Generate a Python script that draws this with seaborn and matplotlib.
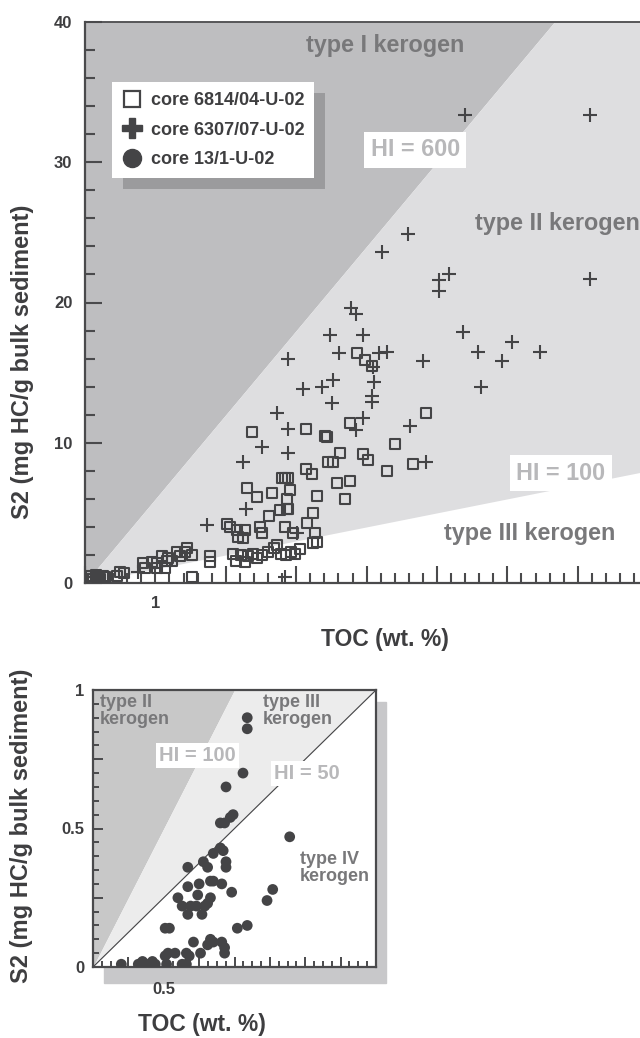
import numpy as np
import matplotlib
matplotlib.use("Agg")
import matplotlib.pyplot as plt
from matplotlib.lines import Line2D
from matplotlib.patches import Rectangle
from matplotlib.ticker import MultipleLocator
import seaborn as sns

# ---------------- data ----------------
# core 6814/04-U-02 (open squares): TOC wt.% and S2 mg HC/g
toc_6814 = [0.05, 0.08, 0.12, 0.15, 0.18, 0.22, 0.25, 0.10, 0.20, 0.28,
            0.45, 0.50, 0.55,
            0.82, 0.85, 0.95, 1.02, 1.02, 1.14, 1.16, 1.09, 1.18, 1.24,
            1.31, 1.35, 1.42, 1.45, 1.52, 1.52, 1.78, 1.78,
            2.10, 2.15, 2.22, 2.27, 2.32, 2.38, 2.45, 2.52, 2.60, 2.68,
            2.78, 2.86, 2.92, 2.98, 3.05, 3.24,
            2.02, 2.06, 2.16, 2.27, 2.24, 2.17, 2.49, 2.51, 2.73, 2.84,
            2.96, 2.61, 2.77, 2.88, 3.24, 3.15, 3.27, 3.29,
            2.30, 2.44, 2.66, 2.91, 2.87, 2.87, 3.29, 2.80, 2.84, 2.88,
            3.14, 3.22, 2.37, 3.14,
            3.76, 3.41, 3.44, 3.62, 3.45, 3.52, 3.76, 3.58, 3.69,
            3.95, 4.02, 4.40, 4.29, 4.66, 4.85,
            3.86, 3.98, 4.08]
s2_6814 = [0.3, 0.5, 0.3, 0.6, 0.4, 0.3, 0.5, 0.1, 0.15, 0.4,
           0.5, 0.8, 0.7,
           1.4, 1.1, 1.5, 1.4, 1.1, 1.1, 1.6, 1.9, 1.8, 1.6,
           2.2, 1.9, 2.2, 2.5, 2.0, 0.4, 1.9, 1.5,
           2.1, 1.6, 2.0, 1.5, 1.9, 2.1, 1.8, 2.0, 2.2, 2.5,
           2.1, 2.0, 2.2, 2.1, 2.4, 2.85,
           4.2, 4.0, 3.8, 3.8, 3.2, 3.3, 4.0, 3.6, 2.7, 4.0,
           3.6, 4.8, 5.2, 5.3, 5.0, 4.3, 3.6, 2.9,
           6.8, 6.1, 6.4, 6.6, 6.0, 5.3, 6.2, 7.5, 7.5, 7.5,
           8.1, 7.8, 10.8, 11.0,
           11.4, 10.5, 10.4, 9.3, 8.6, 8.6, 7.3, 7.1, 6.0,
           9.2, 8.8, 9.9, 8.0, 8.5, 12.1,
           16.4, 15.9, 15.5]

# core 6307/07-U-02 (crosses)
toc_6307 = [0.75, 1.73, 2.24, 2.29, 2.51, 2.73, 2.84, 2.88, 2.88, 2.88,
            3.01, 3.10, 3.37, 3.48, 3.51, 3.52, 3.61, 3.78, 3.85, 3.85,
            3.95, 3.95, 4.08, 4.08, 4.09, 4.10, 4.18, 4.29, 4.22, 4.59,
            4.62, 4.80, 4.84, 5.03, 5.03, 5.17, 5.37, 5.40, 5.58, 5.63,
            5.92, 6.07, 6.46, 7.17, 7.17]
s2_6307 = [0.8, 4.1, 8.6, 5.3, 9.7, 12.1, 0.4, 11.0, 9.3, 16.0,
           3.6, 13.8, 14.0, 17.7, 12.8, 14.5, 16.4, 19.6, 19.2, 10.9,
           17.7, 11.8, 13.3, 12.9, 15.4, 14.3, 16.4, 16.5, 23.6, 24.9,
           11.2, 15.8, 8.6, 21.6, 20.8, 22.0, 17.9, 33.4, 16.5, 14.0,
           15.8, 17.2, 16.5, 33.4, 21.7]

# core 13/1-U-02 (filled circles)
toc_131 = [1.09, 1.09, 1.06, 0.94, 0.90, 0.93, 0.97, 0.99, 1.39, 0.90,
           0.85, 0.92, 0.67, 0.78, 0.81, 0.94, 0.94, 0.67, 0.75, 0.83,
           0.85, 0.91, 0.60, 0.98, 0.74, 0.83, 0.63, 0.69, 0.73, 0.79,
           0.81, 0.67, 0.77, 1.27, 1.23, 0.51, 0.54, 1.02, 1.09, 0.71,
           0.83, 0.81, 0.85, 0.91, 0.93, 0.93, 0.51, 0.53, 0.58, 0.66,
           0.68, 0.76, 0.20, 0.32, 0.35, 0.42, 0.44, 0.52, 0.63, 0.66,
           0.38, 0.34]
s2_131 = [0.90, 0.86, 0.70, 0.65, 0.52, 0.52, 0.54, 0.55, 0.47, 0.43,
          0.41, 0.42, 0.36, 0.38, 0.36, 0.38, 0.36, 0.29, 0.30, 0.31,
          0.31, 0.30, 0.25, 0.27, 0.26, 0.25, 0.22, 0.22, 0.22, 0.22,
          0.23, 0.19, 0.19, 0.28, 0.24, 0.14, 0.14, 0.14, 0.15, 0.09,
          0.10, 0.08, 0.09, 0.09, 0.07, 0.05, 0.04, 0.05, 0.05, 0.05,
          0.04, 0.05, 0.01, 0.01, 0.02, 0.02, 0.01, 0.01, 0.01, 0.01,
          0.01, 0.00]

legend_labels = ["core 6814/04-U-02", "core 6307/07-U-02", "core 13/1-U-02"]

# hydrogen-index boundaries (mg HC/g TOC)
hi_top = [600, 100]
hi_bottom = [100, 50]

top_yticks = [0, 10, 20, 30, 40]
top_xticks = [0, 1, 2, 3, 4, 5, 6, 7]
top_xticklabels = ["", "1", "", "", "", "", "", ""]
bot_yticks = [0, 0.25, 0.5, 0.75, 1.0]
bot_yticklabels = ["0", "", "0.5", "", "1"]
bot_xticks = [0, 0.25, 0.5, 0.75, 1.0, 1.25, 1.5, 1.75, 2.0]
bot_xticklabels = ["", "", "0.5", "", "", "", "", "", ""]

# ---------------- style ----------------
sns.set_style("ticks")
plt.rcParams["font.family"] = ["Liberation Sans", "DejaVu Sans"]
plt.rcParams["font.weight"] = "bold"
plt.rcParams["axes.labelweight"] = "bold"

ink = "#3e3e40"
mark = "#444446"
spine_c = "#4a4a4c"
dark_zone = "#bebec0"
light_zone = "#dedee0"
dark_zone2 = "#c8c8c8"
light_zone2 = "#ececec"
type_c = "#78787a"
hi_c = "#b8b8ba"

W, H = 640, 1038
fig = plt.figure(figsize=(W / 100, H / 100), dpi=100)

px_per_toc = 70.4
ax1 = fig.add_axes([85 / W, 455 / H, 555 / W, 561 / H])
ax2 = fig.add_axes([93 / W, 71 / H, 283 / W, 277 / H])

# ---------------- upper panel ----------------
xmax1 = 555 / px_per_toc
ax1.set_xlim(0, xmax1)
ax1.set_ylim(0, 40)
xs = np.linspace(0, xmax1, 800)
upper = np.clip(hi_top[0] / 100 * xs, 0, 40)
lower = np.clip(hi_top[1] / 100 * xs, 0, 40)
ax1.fill_between(xs, upper, 40, color=dark_zone, lw=0, zorder=0)
ax1.fill_between(xs, lower, upper, color=light_zone, lw=0, zorder=0)

sns.scatterplot(x=toc_6814, y=s2_6814, ax=ax1, marker="s", s=52,
                facecolor="none", edgecolor=mark, linewidth=1.5, zorder=3)
sns.scatterplot(x=toc_6307, y=s2_6307, ax=ax1, marker="+", s=95,
                color=mark, linewidth=1.5, zorder=3)

ax1.set_yticks(top_yticks)
ax1.yaxis.set_minor_locator(MultipleLocator(2))
ax1.set_xticks(top_xticks)
ax1.set_xticklabels(top_xticklabels)
ax1.xaxis.set_minor_locator(MultipleLocator(0.2))
ax1.tick_params(which="major", direction="in", length=12, width=1.5,
                color=spine_c, labelsize=12, labelcolor=ink, pad=9)
ax1.tick_params(which="minor", direction="in", length=7, width=1.5,
                color=spine_c)
ax1.tick_params(top=False, right=False, which="both")
for side in ["left", "bottom", "top"]:
    ax1.spines[side].set_color(spine_c)
    ax1.spines[side].set_linewidth(1.6)
ax1.spines["right"].set_visible(False)
ax1.spines["top"].set_linewidth(1.3)

ax1.set_xlabel("TOC (wt. %)", fontsize=16.5, fontweight="bold", color=ink,
               va="center")
ax1.xaxis.set_label_coords(0.5405, -0.1016)
ax1.set_ylabel("S2 (mg HC/g bulk sediment)", fontsize=17, fontweight="bold",
               color=ink, va="center")
ax1.yaxis.set_label_coords(-0.1135, 0.394)

fs_top = 16.8
ax1.text(4.26, 38.3, "type I kerogen", fontsize=fs_top, color=type_c,
         ha="center", va="center")
ax1.text(4.69, 30.9, "HI = 600", fontsize=fs_top, color=hi_c, ha="center",
         va="center", bbox=dict(boxstyle="square,pad=0.28", fc="white", ec="none"))
ax1.text(5.54, 25.6, "type II kerogen", fontsize=fs_top, color=type_c,
         ha="left", va="center")
ax1.text(6.76, 7.84, "HI = 100", fontsize=fs_top, color=hi_c, ha="center",
         va="center", bbox=dict(boxstyle="square,pad=0.28", fc="white", ec="none"))
ax1.text(6.32, 3.56, "type III kerogen", fontsize=fs_top, color=type_c,
         ha="center", va="center")

handles = [
    Line2D([], [], ls="none", marker="s", ms=11, mfc="white", mec=mark, mew=1.6),
    Line2D([], [], ls="none", marker="P", ms=14, color=mark),
    Line2D([], [], ls="none", marker="o", ms=13, color=mark),
]
leg = ax1.legend(handles, legend_labels, loc="upper left",
                 bbox_to_anchor=(0.0486, 0.893), borderaxespad=0,
                 frameon=True, fancybox=False, framealpha=1,
                 facecolor="white", edgecolor="none",
                 borderpad=0.55, labelspacing=0.7, handletextpad=0.5,
                 handlelength=1.1,
                 prop=dict(weight="bold", size=13), labelcolor=ink,
                 shadow={"ox": 8, "oy": -8, "facecolor": "#9b9b9d",
                         "edgecolor": "none", "alpha": 1})

# ---------------- lower panel ----------------
fig.patches.append(Rectangle((104 / W, 55 / H), 282 / W, 281 / H,
                             transform=fig.transFigure, color="#c8c8ca",
                             zorder=-5))
ax2.set_xlim(0, 2)
ax2.set_ylim(0, 1)
xs2 = np.linspace(0, 2, 800)
up2 = np.clip(hi_bottom[0] / 100 * xs2, 0, 1)
lo2 = np.clip(hi_bottom[1] / 100 * xs2, 0, 1)
ax2.fill_between(xs2, up2, 1, color=dark_zone2, lw=0, zorder=0)
ax2.fill_between(xs2, lo2, up2, color=light_zone2, lw=0, zorder=0)
ax2.plot(xs2, lo2, color=mark, lw=0.8, zorder=1)

sns.scatterplot(x=toc_131, y=s2_131, ax=ax2, marker="o", s=60,
                color=mark, edgecolor="none", zorder=3)

ax2.set_yticks(bot_yticks)
ax2.set_yticklabels(bot_yticklabels)
ax2.yaxis.set_minor_locator(MultipleLocator(0.05))
ax2.set_xticks(bot_xticks)
ax2.set_xticklabels(bot_xticklabels)
ax2.xaxis.set_minor_locator(MultipleLocator(0.0625))
ax2.tick_params(which="major", direction="in", length=7, width=1.4,
                color=spine_c, labelsize=12, labelcolor=ink, pad=6)
ax2.tick_params(axis="x", which="major", pad=11)
ax2.tick_params(which="minor", direction="in", length=4, width=1.4,
                color=spine_c)
ax2.tick_params(top=False, right=False, which="both")
for side in ax2.spines:
    ax2.spines[side].set_color(spine_c)
    ax2.spines[side].set_linewidth(1.6)

ax2.set_xlabel("TOC (wt. %)", fontsize=16.5, fontweight="bold", color=ink,
               va="center")
ax2.xaxis.set_label_coords(0.385, -0.209)
ax2.set_ylabel("S2 (mg HC/g bulk sediment)", fontsize=17, fontweight="bold",
               color=ink, va="center")
ax2.yaxis.set_label_coords(-0.251, 0.509)

fs_bot = 13
ax2.text(0.05, 0.985, "type II\nkerogen", fontsize=fs_bot, color=type_c,
         ha="left", va="top", linespacing=0.95)
ax2.text(1.20, 0.985, "type III\nkerogen", fontsize=fs_bot, color=type_c,
         ha="left", va="top", linespacing=0.95)
ax2.text(0.74, 0.765, "HI = 100", fontsize=14.5, color=hi_c, ha="center",
         va="center", bbox=dict(boxstyle="square,pad=0.15", fc="white", ec="none"))
ax2.text(1.51, 0.70, "HI = 50", fontsize=14.5, color=hi_c, ha="center",
         va="center", bbox=dict(boxstyle="square,pad=0.15", fc="white", ec="none"))
ax2.text(1.46, 0.357, "type IV\nkerogen", fontsize=fs_bot, color=type_c,
         ha="left", va="center", linespacing=0.95)

fig.savefig("out.png", dpi=100)
